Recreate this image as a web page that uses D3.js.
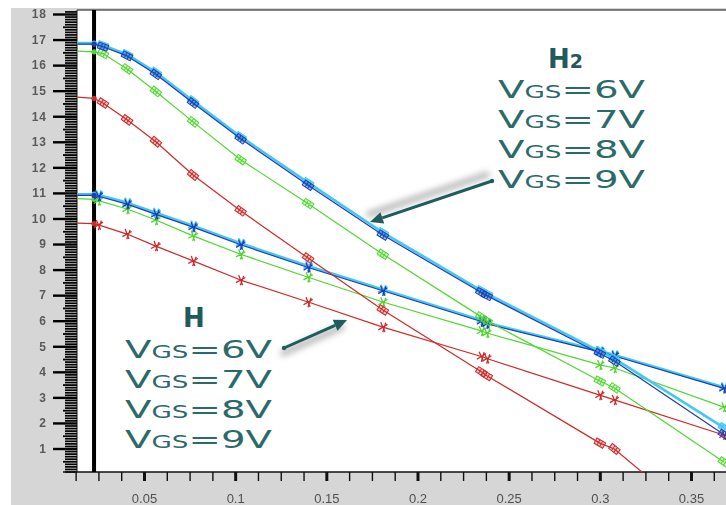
<!DOCTYPE html>
<html><head><meta charset="utf-8">
<script src="https://cdn.jsdelivr.net/npm/d3@7"></script>
<style>body{margin:0;background:#fff}svg{display:block}</style>
</head><body>
<svg id="c" width="726" height="505"></svg>
<script>
// ---------- data ----------
const xTickValues = [0.05, 0.1, 0.15, 0.2, 0.25, 0.3, 0.35];
const xTickLabels = ["0.05", "0.1", "0.15", "0.2", "0.25", "0.3", "0.35"];
const yTickValues = [1,2,3,4,5,6,7,8,9,10,11,12,13,14,15,16,17,18];
const yTickLabels = ["1","2","3","4","5","6","7","8","9","10","11","12","13","14","15","16","17","18"];
const cursorX = 0.0226;

const xH2 = [0.0134, 0.0226, 0.0275, 0.0407, 0.0565, 0.0769, 0.103, 0.140, 0.181, 0.235, 0.238, 0.300, 0.308, 0.368];
const h2Vgs6 = [14.75, 14.70, 14.52, 13.86, 13.00, 11.70, 10.30, 8.45, 6.42, 4.00, 3.85, 1.21, 0.98, -2.60];
const h2Vgs7 = [16.55, 16.52, 16.45, 15.85, 14.97, 13.78, 12.30, 10.58, 8.60, 6.15, 6.00, 3.64, 3.37, 0.47];
const h2Vgs8 = [16.82, 16.82, 16.72, 16.36, 15.64, 14.52, 13.12, 11.30, 9.35, 7.10, 6.98, 4.72, 4.42, 1.55];
const h2Vgs9 = [16.86, 16.86, 16.78, 16.42, 15.72, 14.60, 13.20, 11.40, 9.45, 7.18, 7.06, 4.80, 4.52, 1.82];

const xH = [0.0134, 0.0226, 0.0250, 0.0407, 0.0565, 0.0769, 0.103, 0.140, 0.181, 0.235, 0.238, 0.300, 0.308, 0.368];
const hVgs6 = [9.82, 9.80, 9.75, 9.39, 8.92, 8.34, 7.59, 6.73, 5.75, 4.60, 4.52, 3.09, 2.90, 1.53];
const hVgs7 = [10.78, 10.75, 10.70, 10.37, 9.94, 9.32, 8.60, 7.70, 6.73, 5.60, 5.52, 4.27, 4.15, 2.62];
const hVgs8 = [10.90, 10.90, 10.87, 10.56, 10.16, 9.66, 8.97, 8.08, 7.17, 5.97, 5.88, 4.78, 4.62, 3.35];
const hVgs9 = [10.95, 10.95, 10.92, 10.62, 10.22, 9.72, 9.03, 8.14, 7.22, 6.02, 5.92, 4.82, 4.66, 3.40];

const vgsValues = ["6", "7", "8", "9"];
const seriesColors = {"6": "#cf2a2a", "7": "#52d631", "8": "#1f3db3", "9": "#45c8f0"};

// ---------- layout ----------
const W = 726, H = 505;
const plotLeft = 77, plotTop = 10, plotRight = 726, plotBottom = 472;
const svg = d3.select("#c");

const x = d3.scaleLinear().domain([0.05, 0.35]).range([144, 691]);
const y = d3.scaleLinear().domain([1, 18]).range([448.5, 14]);

svg.append("rect").attr("width", W).attr("height", H).attr("fill", "#fff");
svg.append("rect").attr("x", 11).attr("y", 8).attr("width", W - 11).attr("height", H - 8).attr("fill", "#d6d6d6");
svg.append("rect").attr("x", plotLeft).attr("y", plotTop).attr("width", plotRight - plotLeft)
   .attr("height", plotBottom - plotTop).attr("fill", "#fff");

const defs = svg.append("defs");
defs.append("clipPath").attr("id", "clip").append("rect")
  .attr("x", plotLeft).attr("y", plotTop).attr("width", plotRight - plotLeft).attr("height", plotBottom - plotTop);
defs.append("filter").attr("id", "blur").attr("x", "-20%").attr("y", "-50%").attr("width", "140%").attr("height", "200%")
  .append("feGaussianBlur").attr("stdDeviation", 3);
defs.append("filter").attr("id", "soft").append("feGaussianBlur").attr("stdDeviation", 0.35);

// ---------- axes ----------
// y minor ticks (dense ruler)
const yMinor = d3.range(1, 182).map(i => i / 10).filter(v => Math.abs(v - Math.round(v)) > 1e-6);
const gyMinor = svg.append("g").attr("transform", `translate(${plotLeft},0)`)
  .call(d3.axisLeft(y).tickValues(yMinor.filter(v => Math.abs(v*2 - Math.round(v*2)) > 1e-6)).tickSize(12).tickFormat(""));
const gyHalf = svg.append("g").attr("transform", `translate(${plotLeft},0)`)
  .call(d3.axisLeft(y).tickValues(yMinor.filter(v => Math.abs(v*2 - Math.round(v*2)) < 1e-6)).tickSize(14).tickFormat(""));
const gyMajor = svg.append("g").attr("transform", `translate(${plotLeft},0)`)
  .call(d3.axisLeft(y).tickValues(yTickValues).tickSize(24).tickPadding(6).tickFormat((d, i) => yTickLabels[i]));
[gyMinor, gyHalf, gyMajor].forEach(g => { g.select(".domain").remove(); });
gyMinor.selectAll("line").attr("stroke", "#000").attr("stroke-width", 1.7);
gyHalf.selectAll("line").attr("stroke", "#000").attr("stroke-width", 1.8);
gyMajor.selectAll("line").attr("stroke", "#000").attr("stroke-width", 2.4);
gyMajor.selectAll("text").attr("font-family", "Liberation Sans, Arial, sans-serif").attr("font-size", 12)
  .attr("font-weight", "bold").attr("fill", "#5a5a5a").attr("letter-spacing", 1).attr("filter", "url(#soft)");

// x ticks
const xMinor = d3.range(1, 30).map(i => i * 0.0125).filter(v => Math.abs(v / 0.05 - Math.round(v / 0.05)) > 1e-6);
const gxMinor = svg.append("g").attr("transform", `translate(0,${plotBottom})`)
  .call(d3.axisBottom(x).tickValues(xMinor).tickSize(9).tickFormat(""));
const gxMajor = svg.append("g").attr("transform", `translate(0,${plotBottom})`)
  .call(d3.axisBottom(x).tickValues(xTickValues).tickSize(9).tickPadding(13).tickFormat((d, i) => xTickLabels[i]));
[gxMinor, gxMajor].forEach(g => g.select(".domain").remove());
gxMinor.selectAll("line").attr("stroke", "#111").attr("stroke-width", 1.4);
gxMajor.selectAll("line").attr("stroke", "#111").attr("stroke-width", 3);
gxMajor.selectAll("text").attr("font-family", "Liberation Sans, Arial, sans-serif").attr("font-size", 13)
  .attr("fill", "#505050").attr("filter", "url(#soft)");

// frame lines
svg.append("line").attr("x1", 63).attr("x2", plotRight).attr("y1", plotBottom).attr("y2", plotBottom)
  .attr("stroke", "#111").attr("stroke-width", 1.3);
svg.append("line").attr("x1", plotLeft).attr("x2", plotLeft).attr("y1", plotTop).attr("y2", plotBottom)
  .attr("stroke", "#111").attr("stroke-width", 1);
svg.append("line").attr("x1", plotLeft).attr("x2", plotRight).attr("y1", plotTop).attr("y2", plotTop)
  .attr("stroke", "#111").attr("stroke-width", 1);

// cursor line
svg.append("line").attr("x1", x(cursorX)).attr("x2", x(cursorX)).attr("y1", plotTop).attr("y2", plotBottom)
  .attr("stroke", "#000").attr("stroke-width", 4);

// ---------- series ----------
const plot = svg.append("g").attr("clip-path", "url(#clip)");
const line = d3.line().x(d => x(d[0])).y(d => y(d[1]));

function drawSeries(xs, ys, vgs, family) {
  const pts = xs.map((v, i) => [v, ys[i]]);
  const col = seriesColors[vgs];
  const wide = vgs === "9";
  plot.append("path").datum(pts).attr("d", line).attr("fill", "none").attr("stroke", col)
    .attr("stroke-width", wide ? 2.6 : 1.2).attr("stroke-linejoin", "round");
  plot.append("circle").attr("cx", x(pts[1][0])).attr("cy", y(pts[1][1])).attr("r", 2.6).attr("fill", col);
  pts.forEach((p, i) => {
    if (i < 2 || p[1] < 0) return;
    const a = pts[i - 1], b = pts[Math.min(i + 1, pts.length - 1)];
    const ang = Math.atan2(y(b[1]) - y(a[1]), x(b[0]) - x(a[0])) * 180 / Math.PI;
    const g = plot.append("g").attr("transform", `translate(${x(p[0])},${y(p[1])}) rotate(${ang})`);
    if (family === "H2") {
      g.append("rect").attr("x", -5).attr("y", -3).attr("width", 10).attr("height", 6)
        .attr("fill", col).attr("fill-opacity", wide ? 0.7 : 0.25).attr("stroke", col).attr("stroke-width", 1);
      g.append("path").attr("d", "M-1.5,-3V3M1.5,-3V3").attr("stroke", col).attr("stroke-width", 1);
    } else {
      g.append("path").attr("d", "M-3.5,-4L3.5,4M-3.5,4L3.5,-4M1.5,-5V5").attr("stroke", col)
        .attr("stroke-width", wide ? 2 : 1.3).attr("fill", "none");
    }
  });
}
const h2Sets = {"6": h2Vgs6, "7": h2Vgs7, "9": h2Vgs9, "8": h2Vgs8};
const hSets = {"6": hVgs6, "7": hVgs7, "9": hVgs9, "8": hVgs8};
["6", "7", "9", "8"].forEach(v => drawSeries(xH, hSets[v], v, "H"));
["6", "7", "9", "8"].forEach(v => drawSeries(xH2, h2Sets[v], v, "H2"));

// ---------- annotations ----------
const teal = "#2a6a6a";
const annFont = "DejaVu Sans, Verdana, sans-serif";

function label(gx, gyBase, titleX, titleBase, isH2) {
  const t = svg.append("text").attr("x", titleX).attr("y", titleBase).attr("font-family", annFont)
    .attr("font-weight", "bold").attr("font-size", 26).attr("fill", "#1f5a5c").text("H");
  if (isH2) t.append("tspan").attr("font-size", 19).text("2");
  vgsValues.forEach((v, i) => {
    const tx = svg.append("text").attr("x", gx).attr("y", gyBase + i * 30).attr("font-family", annFont)
      .attr("font-size", 25).attr("fill", teal)
      .attr("textLength", 147).attr("lengthAdjust", "spacingAndGlyphs");
    tx.append("tspan").text("V");
    tx.append("tspan").attr("font-size", 17).text("GS");
    tx.append("tspan").text("=" + v + "V");
  });
}
label(498, 98, 548, 68, true);
label(125, 358, 183, 327, false);

function arrow(x1, y1, x2, y2, sdx, sdy) {
  const ang = Math.atan2(y2 - y1, x2 - x1);
  const len = 13, hw = 6;
  const bx = x2 - len * Math.cos(ang), by = y2 - len * Math.sin(ang);
  svg.append("line").attr("x1", x1 + sdx).attr("y1", y1 + sdy).attr("x2", x2 + sdx).attr("y2", y2 + sdy)
    .attr("stroke", "#777").attr("stroke-width", 6).attr("opacity", 0.55).attr("filter", "url(#blur)");
  svg.append("line").attr("x1", x1).attr("y1", y1).attr("x2", bx).attr("y2", by)
    .attr("stroke", "#1f5c5c").attr("stroke-width", 3);
  svg.append("circle").attr("cx", x1).attr("cy", y1).attr("r", 2.2).attr("fill", "#1f5c5c");
  const px = -Math.sin(ang), py = Math.cos(ang);
  svg.append("path").attr("d", `M${x2},${y2}L${bx + px * hw},${by + py * hw}L${bx - px * hw},${by - py * hw}Z`)
    .attr("fill", "#1f5c5c");
}
arrow(492, 181, 370, 222, -3, -7);
arrow(284, 348, 347, 320, -3, 6);
</script>
</body></html>
